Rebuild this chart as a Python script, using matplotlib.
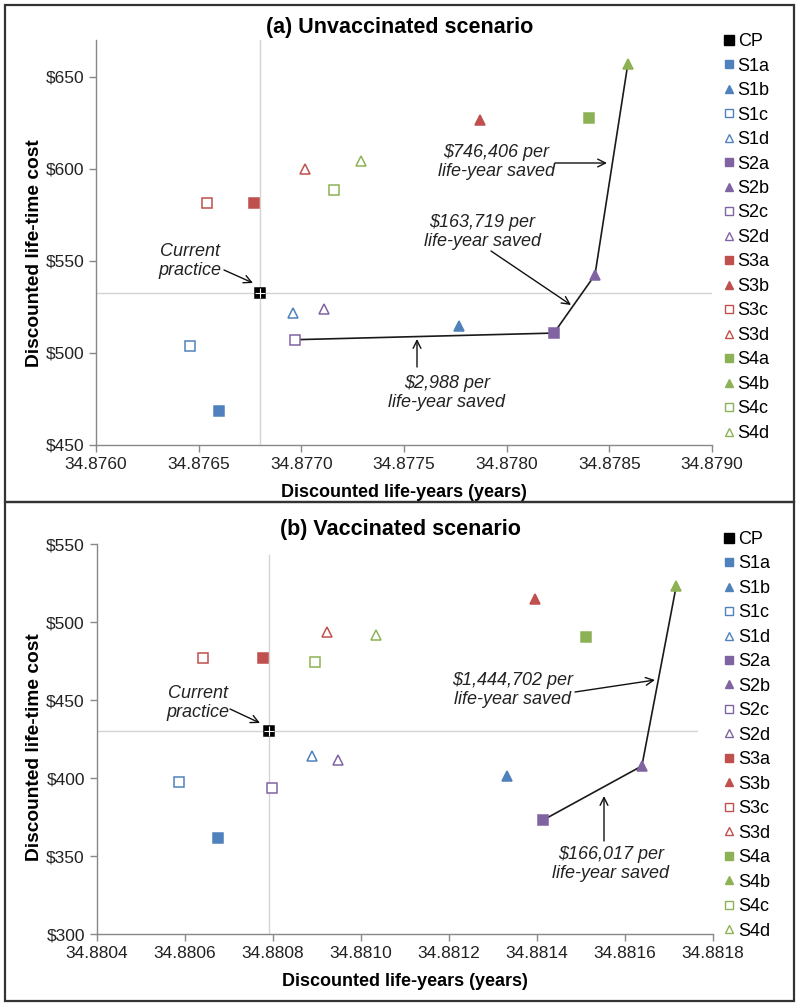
import matplotlib
matplotlib.use("Agg")
import matplotlib.pyplot as plt
from matplotlib.ticker import FuncFormatter, FormatStrFormatter, MultipleLocator
from matplotlib.patches import Rectangle
from matplotlib.lines import Line2D

plt.rcParams['font.family'] = ['Liberation Sans', 'DejaVu Sans']

# ---------------- data ----------------
labels = ["CP", "S1a", "S1b", "S1c", "S1d", "S2a", "S2b", "S2c", "S2d",
          "S3a", "S3b", "S3c", "S3d", "S4a", "S4b", "S4c", "S4d"]

# (a) Unvaccinated scenario
a_life_years = [34.87680, 34.87660, 34.87777, 34.87646, 34.87696, 34.87823, 34.87843,
                34.87697, 34.87711, 34.87677, 34.87787, 34.87654, 34.87702, 34.87840,
                34.87859, 34.87716, 34.87729]
a_cost = [532.8, 468.7, 514.8, 503.6, 521.7, 510.8, 542.4, 507.2, 523.8,
          581.7, 626.7, 581.7, 599.8, 627.6, 656.9, 588.6, 604.5]
a_frontier = ["S2c", "S2a", "S2b", "S4b"]

# (b) Vaccinated scenario
b_life_years = [34.880792, 34.880676, 34.881333, 34.880587, 34.880889, 34.881415, 34.881639,
                34.880798, 34.880949, 34.880777, 34.881396, 34.880641, 34.880923, 34.881511,
                34.881717, 34.880896, 34.881035]
b_cost = [430.3, 362.0, 401.5, 397.4, 414.3, 373.3, 407.9, 394.0, 411.7,
          476.9, 515.2, 476.9, 493.6, 490.6, 523.1, 474.6, 492.1]
b_frontier = ["S2a", "S2b", "S4b"]

# ---------------- styles ----------------
BLUE, PURPLE, RED, GREEN = "#4F81BD", "#8064A2", "#C0504D", "#8DB255"
group_colors = {"CP": "black", "S1": BLUE, "S2": PURPLE, "S3": RED, "S4": GREEN}


def style(lbl):
    if lbl == "CP":
        return dict(marker="s", color="black", filled=True)
    c = group_colors[lbl[:2]]
    v = lbl[2]
    return dict(marker="s" if v in "ac" else "^", color=c, filled=v in "ab")


fig = plt.figure(figsize=(8, 10.08), dpi=100)
W, H = 800, 1008


def axes_px(l, t, r, b):
    return fig.add_axes([l / W, 1 - b / H, (r - l) / W, (b - t) / H])


def draw_panel(ax, xs, ys, frontier, xlim, ylim, xstep, ystep, title, title_y,
               hline_xmax, vline_ymax, leg_y, ylabel_y):
    ax.set_xlim(*xlim)
    ax.set_ylim(*ylim)
    ax.patch.set_alpha(0)
    cp = labels.index("CP")
    ax.axhline(ys[cp], xmin=0, xmax=hline_xmax, color="#D4D4D4", lw=1.0, zorder=1)
    ax.axvline(xs[cp], ymin=0, ymax=vline_ymax, color="#D4D4D4", lw=1.0, zorder=1)
    fx = [xs[labels.index(l)] for l in frontier]
    fy = [ys[labels.index(l)] for l in frontier]
    ax.plot(fx, fy, color="#1a1a1a", lw=1.2, zorder=2)
    handles = []
    for i, lbl in enumerate(labels):
        s = style(lbl)
        ms = 7.0 if s["marker"] == "s" else 7.5
        fc = s["color"] if s["filled"] else "white"
        ax.plot([xs[i]], [ys[i]], linestyle="none", marker=s["marker"], ms=ms,
                mfc=fc, mec=s["color"], mew=1.1, zorder=3 if s["filled"] else 4)
        handles.append(Line2D([], [], linestyle="none", marker=s["marker"],
                              ms=6.5 if lbl == "CP" else 5.8, mfc=fc, mec=s["color"],
                              mew=1.0, label=lbl))
    # white cross on CP marker
    ax.plot([xs[cp]], [ys[cp]], linestyle="none", marker="+", ms=7, mec="white",
            mew=0.8, zorder=5)
    for sp in ("top", "right"):
        ax.spines[sp].set_visible(False)
    for sp in ("left", "bottom"):
        ax.spines[sp].set_color("#888888")
        ax.spines[sp].set_linewidth(1.0)
    ax.tick_params(axis="both", colors="#888888", labelcolor="#222222",
                   labelsize=12.5, length=5, width=1.0, direction="out")
    ax.xaxis.set_major_locator(MultipleLocator(xstep))
    ax.yaxis.set_major_locator(MultipleLocator(ystep))
    ax.xaxis.set_major_formatter(FormatStrFormatter("%.4f"))
    ax.yaxis.set_major_formatter(FuncFormatter(lambda v, p: "$%d" % round(v)))
    ax.set_xlabel("Discounted life-years (years)", fontsize=13, fontweight="bold",
                  labelpad=8.5)
    ax.set_ylabel("Discounted life-time cost", fontsize=13.8, fontweight="bold",
                  labelpad=2)
    ax.yaxis.label.set_y(ylabel_y)
    fig.text(0.5, 1 - title_y / H, title, fontsize=15.5, fontweight="bold",
             ha="center", va="center")
    ax.legend(handles=handles, loc="upper left", bbox_to_anchor=(1.005, leg_y),
              frameon=False, fontsize=13, handlelength=0.7, handletextpad=0.15,
              labelspacing=0.415, borderaxespad=0.0)
    return ax


def arrow(ax, start_px, end_px):
    ax.annotate("", xy=(end_px[0] / W, 1 - end_px[1] / H), xycoords="figure fraction",
                xytext=(start_px[0] / W, 1 - start_px[1] / H),
                textcoords="figure fraction",
                arrowprops=dict(arrowstyle="->", color="#111111", lw=1.0,
                                shrinkA=0, shrinkB=0, mutation_scale=14))


def text(s, pos, ha="center"):
    fig.text(pos[0] / W, 1 - pos[1] / H, s, fontsize=13, fontstyle="italic",
             ha=ha, va="center", color="#222222", linespacing=1.1)


# ---------------- panel (a) ----------------
axa = axes_px(96, 40, 712, 445)
draw_panel(axa, a_life_years, a_cost, a_frontier, (34.8760, 34.8790), (450, 670),
           0.0005, 50, "(a) Unvaccinated scenario", 28, 1.0, 1.0, 1.035, 0.474)
text("Current\npractice", (190, 261))
arrow(axa, (224, 270), (253, 283))
text("$746,406 per\nlife-year saved", (496, 162))
arrow(axa, (555, 163), (607, 163))
text("$163,719 per\nlife-year saved", (482, 232))
arrow(axa, (491, 251), (571, 305))
text("$2,988 per\nlife-year saved", (447, 393))
arrow(axa, (417, 367), (417, 339))

# ---------------- panel (b) ----------------
axb = axes_px(96.7, 544.3, 712.7, 934.3)
draw_panel(axb, b_life_years, b_cost, b_frontier, (34.8804, 34.8818), (300, 550),
           0.0002, 50, "(b) Vaccinated scenario", 530, 0.975, 0.9726, 1.053, 0.48)
text("Current\npractice", (198, 703))
arrow(axb, (230, 709), (260, 723))
text("$1,444,702 per\nlife-year saved", (513, 690))
arrow(axb, (575, 692), (655, 680))
text("$166,017 per\nlife-year saved", (611, 864))
arrow(axb, (604, 841), (604, 796))

# panel frames
for (l, t, r, b) in [(5, 5, 794, 502), (5, 502, 794, 1001)]:
    fig.add_artist(Rectangle((l / W, 1 - b / H), (r - l) / W, (b - t) / H,
                             transform=fig.transFigure, fill=False,
                             edgecolor="#333333", lw=1.6))

fig.savefig("out.png", dpi=100)
